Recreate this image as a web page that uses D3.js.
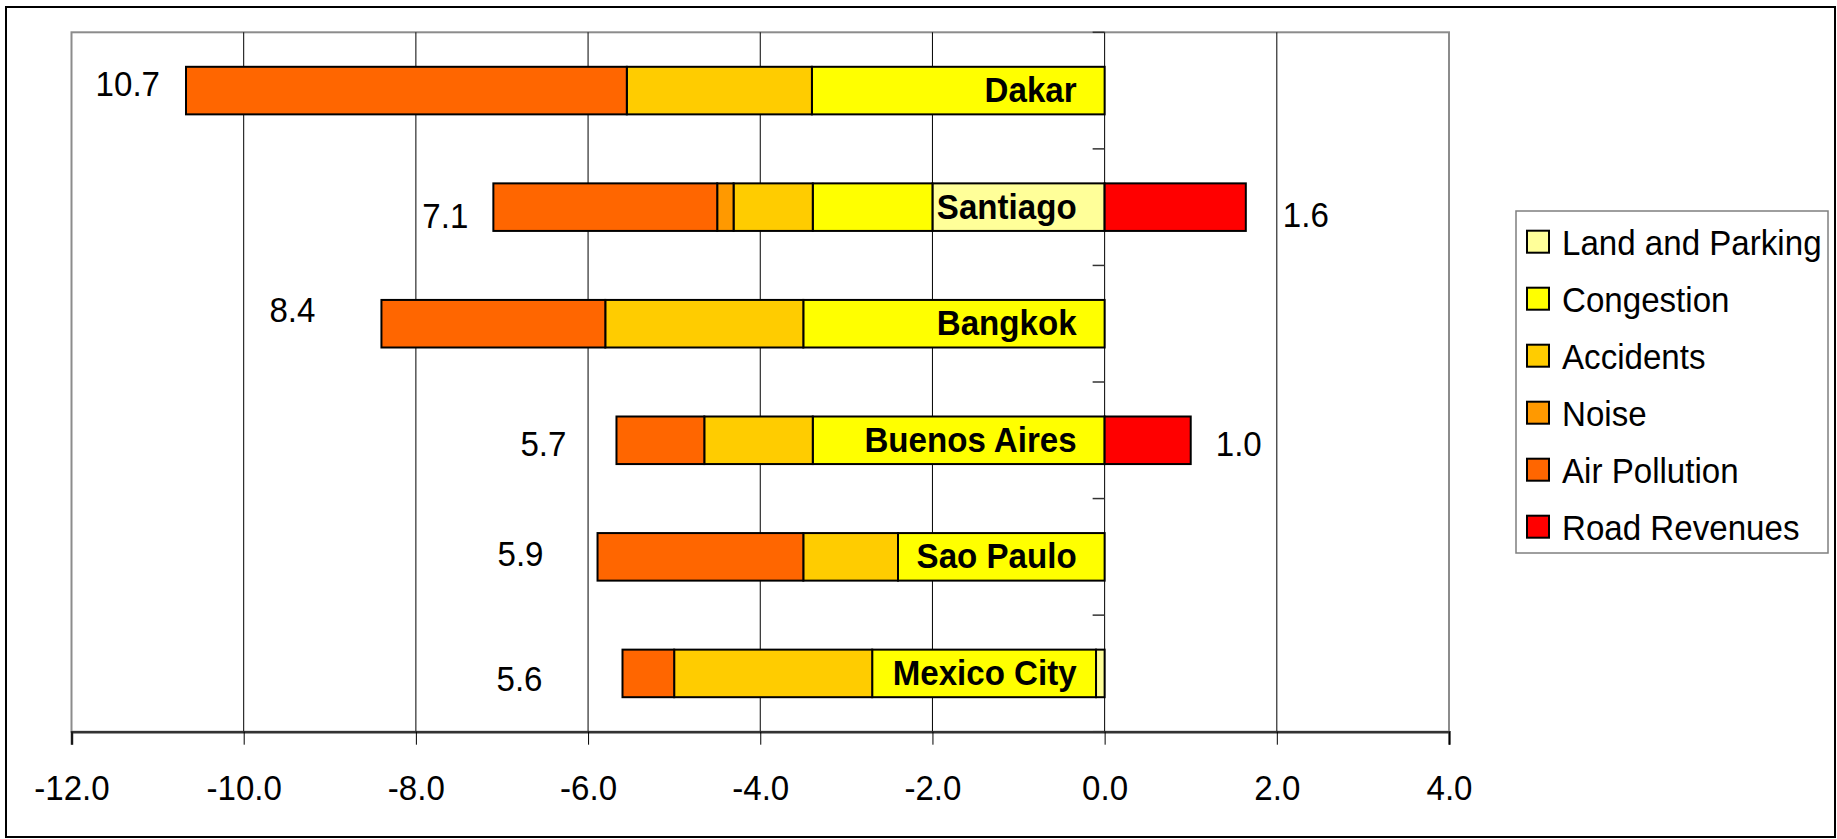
<!DOCTYPE html>
<html>
<head>
<meta charset="utf-8">
<script src="https://cdn.jsdelivr.net/npm/d3@7"></script>
<style>
  html, body { margin: 0; padding: 0; background: #fff; }
  svg { display: block; font-family: "Liberation Sans", Arial, sans-serif; }
</style>
</head>
<body>
<svg id="chart" width="1837" height="839"></svg>
<script>
// Cost components per city (negative side) and road revenues (positive side)
const cities       = ["Dakar", "Santiago", "Bangkok", "Buenos Aires", "Sao Paulo", "Mexico City"];
const landParking  = [0,    2.0,  0,   0,    0,    0.1];
const congestion   = [3.4,  1.39, 3.5, 3.39, 2.4,  2.6];
const accidents    = [2.15, 0.92, 2.3, 1.26, 1.1,  2.3];
const noise        = [0,    0.19, 0,   0,    0,    0];
const airPollution = [5.12, 2.6,  2.6, 1.02, 2.39, 0.6];
const roadRevenues = [0,    1.64, 0,   1.0,  0,    0];

const seriesNames = ["Land and Parking", "Congestion", "Accidents", "Noise", "Air Pollution", "Road Revenues"];
const seriesColors = ["#FFFF99", "#FFFF00", "#FFCC00", "#FF9900", "#FF6600", "#FF0000"];
const xTicks = [-12, -10, -8, -6, -4, -2, 0, 2, 4];

// Placement of the total labels relative to the bar ends (px)
const totalLabelGap   = [26, 25, 66, 50, 54, 80];
const totalLabelShift = [-7, 8, -15, 3, -4, 5];
const revLabelGap     = [0, 37, 0, 25, 0, 0];
const revLabelShift   = [0, 7, 0, 3, 0, 0];

// Text is set slightly condensed
const FONT = 36;
const SX = 0.92;
const capOff = FONT * 0.716 / 2;

const rows = cities.map((c, i) => ({
  city: c,
  "Land and Parking": -landParking[i],
  "Congestion": -congestion[i],
  "Accidents": -accidents[i],
  "Noise": -noise[i],
  "Air Pollution": -airPollution[i],
  "Road Revenues": roadRevenues[i]
}));

const svg = d3.select("#chart");

function label(parent, x, y, str, anchor, bold) {
  parent.append("g")
    .attr("transform", `translate(${x},${y}) scale(${SX},1)`)
    .append("text")
    .attr("text-anchor", anchor)
    .attr("font-size", FONT)
    .attr("font-weight", bold ? "bold" : "normal")
    .attr("fill", "#000")
    .text(str);
}

// Outer chart frame
svg.append("rect")
  .attr("x", 6).attr("y", 7).attr("width", 1829).attr("height", 830)
  .attr("fill", "#fff").attr("stroke", "#000").attr("stroke-width", 2);

const plot = { left: 71.5, right: 1449, top: 32.3, bottom: 731.7 };

const x = d3.scaleLinear().domain([-12, 4]).range([plot.left, plot.right]);
const y = d3.scaleBand().domain(cities).range([plot.top, plot.bottom]);
const barH = y.bandwidth() * 0.408;
const yc = c => y(c) + y.bandwidth() / 2;

// Plot area border
svg.append("rect")
  .attr("x", plot.left).attr("y", plot.top)
  .attr("width", plot.right - plot.left).attr("height", plot.bottom - plot.top)
  .attr("fill", "none").attr("stroke", "#8c8c8c").attr("stroke-width", 2);

// Vertical gridlines
svg.append("g").selectAll("line")
  .data(xTicks.filter(t => t > -12 && t < 4))
  .join("line")
  .attr("x1", d => x(d)).attr("x2", d => x(d))
  .attr("y1", plot.top).attr("y2", plot.bottom)
  .attr("stroke", "#000").attr("stroke-width", 1);

// Category tick marks on the zero line
const bandEdges = cities.map(c => y(c)).concat([plot.bottom]);
svg.append("g").selectAll("line")
  .data(bandEdges)
  .join("line")
  .attr("x1", x(0) - 12).attr("x2", x(0))
  .attr("y1", d => d).attr("y2", d => d)
  .attr("stroke", "#333").attr("stroke-width", 1.5);

// Plain hyphen-minus number format, one decimal
const fmt = v => v.toFixed(1);

// Bottom value axis
const xAxis = d3.axisBottom(x).tickValues(xTicks).tickSize(13).tickPadding(0)
  .tickFormat(fmt);
const gx = svg.append("g").attr("transform", `translate(0,${plot.bottom})`).call(xAxis);
gx.select(".domain").attr("stroke", "#333").attr("stroke-width", 2.5);
gx.selectAll(".tick line").attr("stroke", "#000").attr("stroke-width", 1);
gx.selectAll(".tick text")
  .attr("y", 68.5).attr("dy", null)
  .attr("transform", `scale(${SX},1)`)
  .attr("font-size", FONT).attr("fill", "#000")
  .attr("font-family", "'Liberation Sans', Arial, sans-serif");

// Stacked bars
const stack = d3.stack().keys(seriesNames).offset(d3.stackOffsetDiverging);
const layers = stack(rows);
const color = d3.scaleOrdinal().domain(seriesNames).range(seriesColors);

svg.append("g").selectAll("g")
  .data(layers)
  .join("g")
  .attr("fill", d => color(d.key))
  .selectAll("rect")
  .data(d => d.filter(p => p[1] - p[0] !== 0))
  .join("rect")
  .attr("x", p => x(Math.min(p[0], p[1])))
  .attr("width", p => Math.abs(x(p[1]) - x(p[0])))
  .attr("y", p => yc(p.data.city) - barH / 2)
  .attr("height", barH)
  .attr("stroke", "#000").attr("stroke-width", 2);

// City names inside the bars
const cityLabels = svg.append("g");
cities.forEach(c => label(cityLabels, x(0) - 28, yc(c) + capOff - 1.5, c, "end", true));

// Total cost labels
const totalCost = i => landParking[i] + congestion[i] + accidents[i] + noise[i] + airPollution[i];
const totalLabels = svg.append("g");
cities.forEach((c, i) => label(totalLabels,
  x(-totalCost(i)) - totalLabelGap[i],
  yc(c) + totalLabelShift[i] + capOff,
  fmt(totalCost(i)), "end", false));

// Road revenue labels
const revLabels = svg.append("g");
cities.forEach((c, i) => {
  if (roadRevenues[i] > 0) {
    label(revLabels, x(roadRevenues[i]) + revLabelGap[i], yc(c) + revLabelShift[i] + capOff,
      fmt(roadRevenues[i]), "start", false);
  }
});

// Legend
const legend = svg.append("g");
legend.append("rect")
  .attr("x", 1516).attr("y", 211).attr("width", 312).attr("height", 342)
  .attr("fill", "#fff").attr("stroke", "#7f7f7f").attr("stroke-width", 1.5);
seriesNames.forEach((name, i) => {
  const cy = 241.7 + i * 57;
  legend.append("rect")
    .attr("x", 1527).attr("y", cy - 11).attr("width", 22).attr("height", 22)
    .attr("fill", color(name)).attr("stroke", "#000").attr("stroke-width", 2);
  label(legend, 1562, cy + capOff, name, "start", false);
});
</script>
</body>
</html>
